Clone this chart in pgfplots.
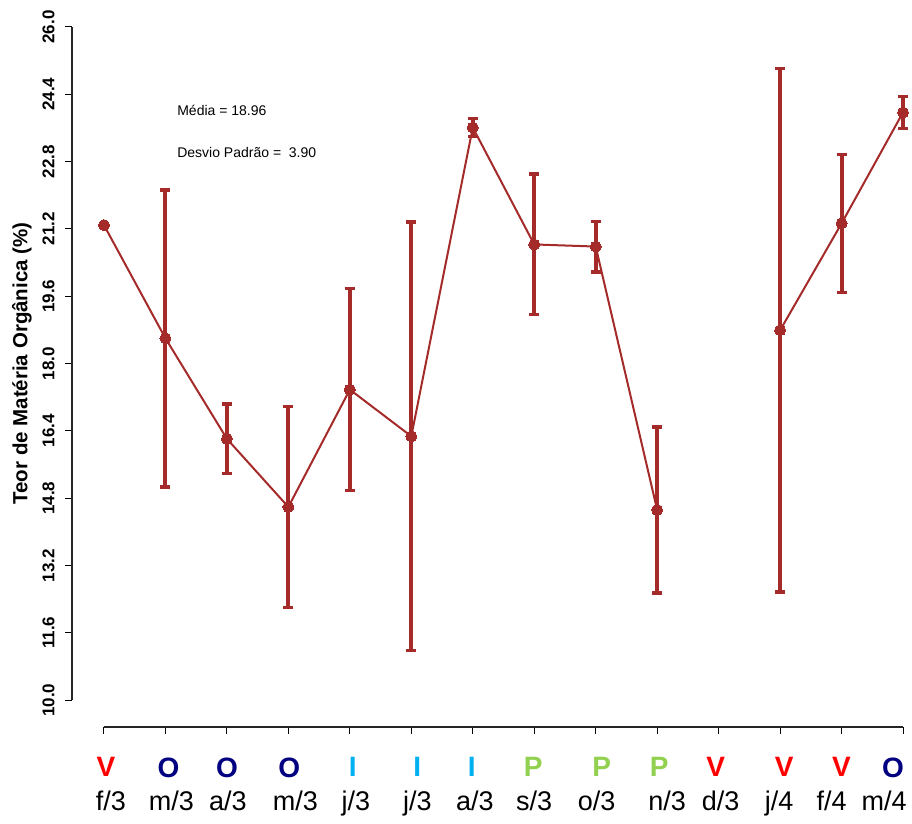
\documentclass[border=0pt]{standalone}
\usepackage{pgfplots}
\pgfplotsset{compat=1.18}
\usepackage{fontspec}
\setmainfont{Liberation Sans}
\definecolor{brn}{HTML}{A52A2A}
\definecolor{sV}{HTML}{FF0000}
\definecolor{sO}{HTML}{000080}
\definecolor{sI}{HTML}{00B0F0}
\definecolor{sP}{HTML}{92D050}
% #1 colour, #2 letter, #3 letter offset, #4 month, #5 month offset
\newcommand{\lab}[5]{{\fontsize{28}{28}\selectfont\bfseries\color{#1}\hspace*{#3}#2\hspace*{-#3}}\\[13pt]{\fontsize{27}{27}\selectfont\hspace*{#5}#4\hspace*{-#5}}}
\begin{document}
\begin{tikzpicture}
\begin{axis}[
  at={(72pt,0pt)}, anchor=north west,
  scale only axis, width=863pt, height=727pt,
  xmin=0.48, xmax=14.52, ymin=9.36, ymax=26.64,
  axis x line*=bottom, axis y line*=left,
  axis line style={draw=none},
  clip=false,
  tick align=outside, major tick length=7pt,
  tick style={black, line width=1pt},
  xtick={1,...,14},
  xticklabels={\lab{sV}{V}{2pt}{f/3}{7pt},\lab{sO}{O}{3pt}{m/3}{6pt},\lab{sO}{O}{0pt}{a/3}{1pt},\lab{sO}{O}{1pt}{m/3}{7pt},\lab{sI}{I}{3pt}{j/3}{6pt},\lab{sI}{I}{6pt}{j/3}{6pt},\lab{sI}{I}{-1pt}{a/3}{2pt},\lab{sP}{P}{-1pt}{s/3}{0pt},\lab{sP}{P}{6pt}{o/3}{1pt},\lab{sP}{P}{2pt}{n/3}{10pt},\lab{sV}{V}{-3pt}{d/3}{2pt},\lab{sV}{V}{4pt}{j/4}{-1pt},\lab{sV}{V}{0pt}{f/4}{-10pt},\lab{sO}{O}{-10pt}{m/4}{-19pt}},
  xticklabel style={align=center, anchor=north, yshift=-20pt},
  ytick={10,11.6,13.2,14.8,16.4,18,19.6,21.2,22.8,24.4,26},
  yticklabel style={xshift=-7pt, rotate=90, anchor=south, font=\bfseries\fontsize{17}{17}\selectfont,
    /pgf/number format/fixed, /pgf/number format/fixed zerofill,
    /pgf/number format/precision=1, /pgf/number format/assume math mode=true},
  ylabel={Teor de Matéria Orgânica (\%)},
  ylabel style={at={(axis description cs:-0.058,0.5)}, anchor=center, rotate=0,
    font=\bfseries\fontsize{20.5}{20.5}\selectfont},
]
\draw[line width=1.3pt, black!85] (axis cs:1,9.36) -- (axis cs:14,9.36);
\draw[line width=1.3pt, black!85] (axis cs:0.48,10) -- (axis cs:0.48,26);

\addplot[draw=none, mark=none, forget plot,
  error bars/.cd, y dir=both, y explicit,
  error bar style={line width=4pt, brn},
  error mark options={rotate=90, mark size=5pt, line width=3.5pt, brn}]
  coordinates {
  (2,18.60) +- (0,3.53)
  (3,16.21) +- (0,0.83)
  (4,14.59) +- (0,2.39)
  (5,17.38) +- (0,2.40)
  (6,16.27) +- (0,5.09)
  (7,23.61) +- (0,0.21)
  (8,20.83) +- (0,1.67)
  (9,20.78) +- (0,0.60)
  (10,14.52) +- (0,1.97)
  (12,18.79) +- (0,6.22)
  (13,21.33) +- (0,1.64)
  (14,23.97) +- (0,0.38)
  };

\addplot[brn, line width=2pt, unbounded coords=jump,
  mark=*, mark size=5.5pt, mark options={fill=brn, draw=brn, line width=0pt}]
  coordinates {
  (1,21.29) (2,18.60) (3,16.21) (4,14.59) (5,17.38) (6,16.27) (7,23.61)
  (8,20.83) (9,20.78) (10,14.52) (11,nan) (12,18.79) (13,21.33) (14,23.97)
  };

\node[anchor=west, font=\fontsize{14}{14}\selectfont, inner sep=0pt] at (axis cs:2.19,24.02) {Média = 18.96};
\node[anchor=west, font=\fontsize{14}{14}\selectfont, inner sep=0pt] at (axis cs:2.19,23.02) {Desvio Padrão = \ 3.90};
\end{axis}
\pgfresetboundingbox
\path[use as bounding box] (0pt,0pt) rectangle (912pt,-823pt);
\end{tikzpicture}
\end{document}
